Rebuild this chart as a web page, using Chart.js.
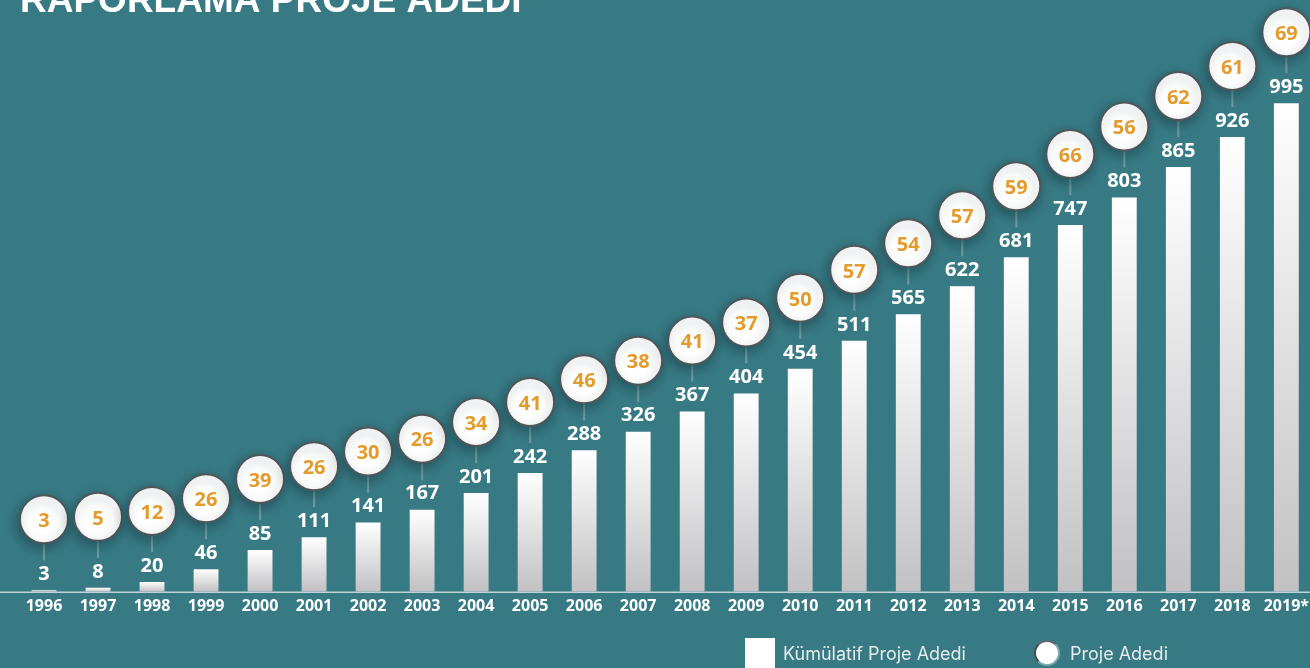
<!DOCTYPE html>
<html lang="tr">
<head>
<meta charset="utf-8">
<title>Raporlama Proje Adedi</title>
<script src="https://cdn.jsdelivr.net/npm/chart.js@4.4.1/dist/chart.umd.min.js"></script>
<style>
  html, body { margin: 0; padding: 0; background: #387a84; overflow: hidden; }
  #wrap { position: relative; width: 1314px; height: 668px; }
  .lg { position: absolute; font: 18px Inter, sans-serif; color: #e4eced; line-height: 22px; }
  .lg-box { position: absolute; left: 745px; top: 638px; width: 30px; height: 40px; background: #fff; }
  .lg-dot { position: absolute; left: 1034px; top: 640px; width: 22px; height: 22px; border-radius: 50%;
            background: #fff; border: 2px solid; border-color: #5d6669 #7da8af #7da8af #474c4e; }
</style>
</head>
<body>
<div id="wrap">
  <canvas id="myChart"></canvas>
  <div class="lg-box"></div>
  <div class="lg" style="left:783px; top:643px;">Kümülatif Proje Adedi</div>
  <div class="lg-dot"></div>
  <div class="lg" style="left:1070px; top:643px;">Proje Adedi</div>
</div>
<script>
const years = ['1996','1997','1998','1999','2000','2001','2002','2003','2004','2005','2006','2007',
               '2008','2009','2010','2011','2012','2013','2014','2015','2016','2017','2018','2019*']
const cumulative = [3, 8, 20, 46, 85, 111, 141, 167, 201, 242, 288, 326,
                    367, 404, 454, 511, 565, 622, 681, 747, 803, 865, 926, 995]
const yearly = [3, 5, 12, 26, 39, 26, 30, 26, 34, 41, 46, 38,
                41, 37, 50, 57, 54, 57, 59, 66, 56, 62, 61, 69]

const RING_LIFT = 71   // circles sit this many px above the bar top
const RING_R = 24

// bars: white on top fading to grey
function barFill(c) {
  const chart = c.chart
  if (!chart.chartArea || c.raw === undefined) return '#fff'
  const y = chart.scales.y
  const top = y.getPixelForValue(c.raw)
  const bottom = y.getPixelForValue(0)
  const g = chart.ctx.createLinearGradient(0, top, 0, bottom + 0.01)
  g.addColorStop(0, '#ffffff')
  g.addColorStop(1, '#c1c1c4')
  return g
}

const decor = {
  id: 'decor',
  beforeDraw(chart) {
    const ctx = chart.ctx
    ctx.save()
    ctx.fillStyle = '#ffffff'
    ctx.font = 'bold 37px "Liberation Sans", Arial, sans-serif'
    ctx.textBaseline = 'alphabetic'
    ctx.fillText('RAPORLAMA PROJE ADEDİ', 20, 12)
    // baseline
    const b = chart.chartArea.bottom
    ctx.strokeStyle = 'rgba(214,228,230,0.85)'
    ctx.lineWidth = 1.5
    ctx.beginPath()
    ctx.moveTo(0, b + 0.5)
    ctx.lineTo(chart.width, b + 0.5)
    ctx.stroke()
    ctx.restore()
  },
  beforeDatasetDraw(chart, args) {
    const ctx = chart.ctx
    if (args.index === 1) {
      // connectors from circle to bar label
      const bars = chart.getDatasetMeta(0).data
      ctx.save()
      ctx.strokeStyle = '#6e9ca4'
      ctx.lineWidth = 2
      bars.forEach(bar => {
        ctx.beginPath()
        ctx.moveTo(bar.x, bar.y - RING_LIFT + RING_R)
        ctx.lineTo(bar.x, bar.y - 30)
        ctx.stroke()
      })
      ctx.restore()
      ctx.save()
      ctx.translate(0, -RING_LIFT)
      ctx.shadowColor = 'rgba(15,45,52,0.45)'
      ctx.shadowBlur = 12
      ctx.shadowOffsetX = -2
      ctx.shadowOffsetY = 4
    }
  },
  afterDatasetDraw(chart, args) {
    const ctx = chart.ctx
    if (args.index === 1) {
      ctx.restore()
      const pts = chart.getDatasetMeta(1).data
      ctx.save()
      ctx.fillStyle = '#e39b2b'
      ctx.font = 'bold 20px "Open Sans", sans-serif'
      ctx.textAlign = 'center'
      ctx.textBaseline = 'middle'
      pts.forEach((p, i) => ctx.fillText(yearly[i], p.x, p.y - RING_LIFT + 2))
      ctx.restore()
    }
    if (args.index === 0) {
      const bars = chart.getDatasetMeta(0).data
      ctx.save()
      ctx.fillStyle = '#ffffff'
      ctx.font = 'bold 20px "Open Sans", sans-serif'
      ctx.textAlign = 'center'
      ctx.textBaseline = 'middle'
      bars.forEach((bar, i) => ctx.fillText(cumulative[i], bar.x, bar.y - 16))
      ctx.restore()
    }
  }
}

const ctx = document.getElementById('myChart')

new Chart(ctx, {
  data: {
    labels: years,
    datasets: [{
      type: 'bar',
      label: 'Kümülatif Proje Adedi',
      data: cumulative,
      backgroundColor: barFill,
      borderWidth: 0,
      categoryPercentage: 1,
      barPercentage: 0.46,
      order: 1
    }, {
      type: 'line',
      label: 'Proje Adedi',
      data: cumulative,
      showLine: false,
      pointRadius: RING_R,
      pointHoverRadius: RING_R,
      pointBackgroundColor: '#ffffff',
      pointBorderColor: '#4f5659',
      pointBorderWidth: 2,
      clip: false,
      order: 0
    }]
  },
  options: {
    responsive: true,
    maintainAspectRatio: false,
    animation: false,
    layout: { autoPadding: false, padding: { left: 17, right: 0, top: 0, bottom: 47 } },
    plugins: {
      legend: { display: false },
      tooltip: { enabled: false }
    },
    scales: {
      x: {
        grid: { display: false, drawTicks: false, tickLength: 0 },
        border: { display: false },
        ticks: {
          color: '#ffffff',
          padding: 5,
          maxRotation: 0,
          autoSkip: false,
          font: { family: '"Open Sans", sans-serif', size: 16, weight: 'bold' }
        }
      },
      y: {
        display: false,
        min: 0,
        max: 1205
      }
    }
  },
  plugins: [decor]
});
</script>
</body>
</html>
